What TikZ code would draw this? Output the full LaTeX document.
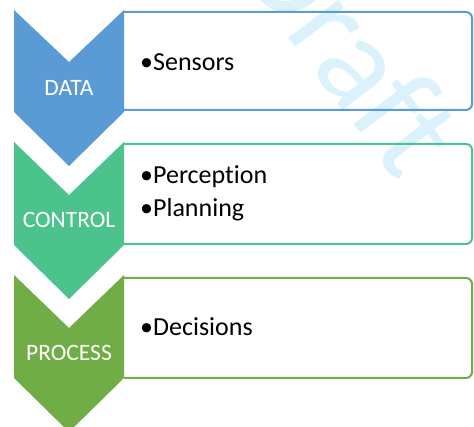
\documentclass[tikz,border=0pt]{standalone}
\usepackage{fontspec}
\setmainfont{Carlito}[Ligatures=NoCommon]
\definecolor{dataBlue}{HTML}{5B9BD5}
\definecolor{controlGreen}{HTML}{4CC38C}
\definecolor{processGreen}{HTML}{70AD47}
\definecolor{draftBlue}{HTML}{DBF2FC}
\tikzset{
	stage/.style={text=white, font=\fontsize{23.5}{28}\selectfont},
	item/.style={anchor=west, inner sep=0pt, font=\fontsize{26}{30}\selectfont},
	listbox/.style={line width=2pt, rounded corners=6pt}
}
\begin{document}
\begin{tikzpicture}[x=1pt,y=-1pt]
	\useasboundingbox (0,0) rectangle (474,427);
	% watermark behind the boxes
	\node (W) at (352,48) [rotate=-53, text=draftBlue, font=\fontsize{132}{132}\selectfont] {Draft};
	% chevrons
	\fill[dataBlue]     (14,10)  -- (69,62)  -- (124,10)  -- (124,112) -- (69,166) -- (14,112) -- cycle;
	\fill[controlGreen] (14,142) -- (69,195) -- (124,142) -- (124,245) -- (69,299) -- (14,245) -- cycle;
	\fill[processGreen] (14,275) -- (69,328) -- (124,275) -- (124,378) -- (69,432) -- (14,378) -- cycle;
	\node (S1) at (69,88)  [stage] {DATA};
	\node (S2) at (69,220) [stage] {CONTROL};
	\node (S3) at (69,353) [stage] {PROCESS};
	% list boxes, open on the chevron side
	\draw[listbox, draw=dataBlue]     (124,12)  -- (472,12)  -- (472,110) -- (124,110);
	\draw[listbox, draw=controlGreen] (124,144) -- (472,144) -- (472,244) -- (124,244);
	\draw[listbox, draw=processGreen] (124,278) -- (472,278) -- (472,378) -- (124,378);
	\node (B1) at (140,62)  [item] {•Sensors};
	\node (B2) at (140,177) [item] {•Perception};
	\node (B3) at (140,210) [item] {•Planning};
	\node (B4) at (140,327) [item] {•Decisions};
\end{tikzpicture}
\end{document}
